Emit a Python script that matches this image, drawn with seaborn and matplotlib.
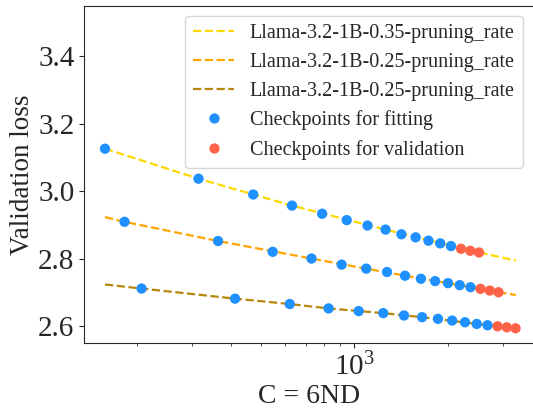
import numpy as np
import pandas as pd
import matplotlib
matplotlib.use("Agg")
import matplotlib.pyplot as plt
import seaborn as sns

# checkpoints (compute C, validation loss)
c_035 = [157.5, 315, 472.5, 630, 787.5, 945, 1102.5, 1260, 1417.5, 1575, 1732.5, 1890, 2047.5, 2205, 2362.5, 2520]
loss_035 = [3.126, 3.037, 2.990, 2.957, 2.933, 2.914, 2.898, 2.886, 2.872, 2.863, 2.853, 2.845, 2.837, 2.829, 2.823, 2.818]

c_025 = [182, 364, 546, 728, 910, 1092, 1274, 1456, 1638, 1820, 2002, 2184, 2366, 2548, 2730, 2912]
loss_025 = [2.909, 2.852, 2.820, 2.800, 2.782, 2.770, 2.760, 2.749, 2.740, 2.733, 2.727, 2.721, 2.715, 2.710, 2.705, 2.700]

c_025b = [206.5, 413, 619.5, 826, 1032.5, 1239, 1445.5, 1652, 1858.5, 2065, 2271.5, 2478, 2684.5, 2891, 3097.5, 3304]
loss_025b = [2.711, 2.681, 2.665, 2.652, 2.644, 2.638, 2.631, 2.626, 2.621, 2.616, 2.611, 2.606, 2.602, 2.599, 2.596, 2.593]

n_val = 3  # last checkpoints held out for validation

# fitted curves
fit_c_035 = [157.5, 315, 630, 1260, 2520, 3311]
fit_035 = [3.126, 3.037, 2.957, 2.886, 2.818, 2.794]
fit_c_025 = [157.5, 182, 364, 728, 1092, 1456, 2184, 2912, 3311]
fit_025 = [2.923, 2.909, 2.852, 2.800, 2.770, 2.749, 2.721, 2.700, 2.692]
fit_c_025b = [157.5, 206.5, 413, 619.5, 826, 1239, 1652, 2478, 3311]
fit_025b = [2.723, 2.711, 2.681, 2.665, 2.652, 2.638, 2.626, 2.606, 2.593]

labels = ["Llama-3.2-1B-0.35-pruning_rate", "Llama-3.2-1B-0.25-pruning_rate", "Llama-3.2-1B-0.25-pruning_rate"]
line_colors = ["#FFD700", "#FFA500", "#B8860B"]

sns.set_style("ticks")
plt.rcParams["font.family"] = ["Liberation Serif", "DejaVu Serif"]
plt.rcParams["mathtext.fontset"] = "stix"

fig = plt.figure(figsize=(5.33, 4.16), dpi=100)
ax = fig.add_axes([0.158, 0.176, 0.842, 0.81])

for fc, fit, lab, col in zip([fit_c_035, fit_c_025, fit_c_025b], [fit_035, fit_025, fit_025b], labels, line_colors):
    sns.lineplot(x=fc, y=fit, ax=ax, color=col, linestyle="--", linewidth=1.6, label=lab)

pts = []
for cs, ls in [(c_035, loss_035), (c_025, loss_025), (c_025b, loss_025b)]:
    for i, (c, l) in enumerate(zip(cs, ls)):
        pts.append({"C": c, "loss": l,
                    "kind": "Checkpoints for validation" if i >= len(cs) - n_val else "Checkpoints for fitting"})
df = pd.DataFrame(pts)

sns.scatterplot(data=df, x="C", y="loss", hue="kind",
                palette={"Checkpoints for fitting": "#1E90FF", "Checkpoints for validation": "#FF6347"},
                s=55, edgecolor="none", ax=ax, zorder=3)

ax.set_xscale("log")
ax.set_xlim(135, 3760)
ax.set_ylim(2.55, 3.55)
ax.set_yticks([2.6, 2.8, 3.0, 3.2, 3.4])
ax.tick_params(axis="both", labelsize=21)
ax.set_xlabel("C = 6ND", fontsize=20, labelpad=2)
ax.set_ylabel("Validation loss", fontsize=19.5, labelpad=2)
ax.spines["right"].set_visible(False)

ax.legend(loc="upper right", fontsize=14.5, frameon=True, labelspacing=0.48)

fig.savefig("out.png", dpi=100)
